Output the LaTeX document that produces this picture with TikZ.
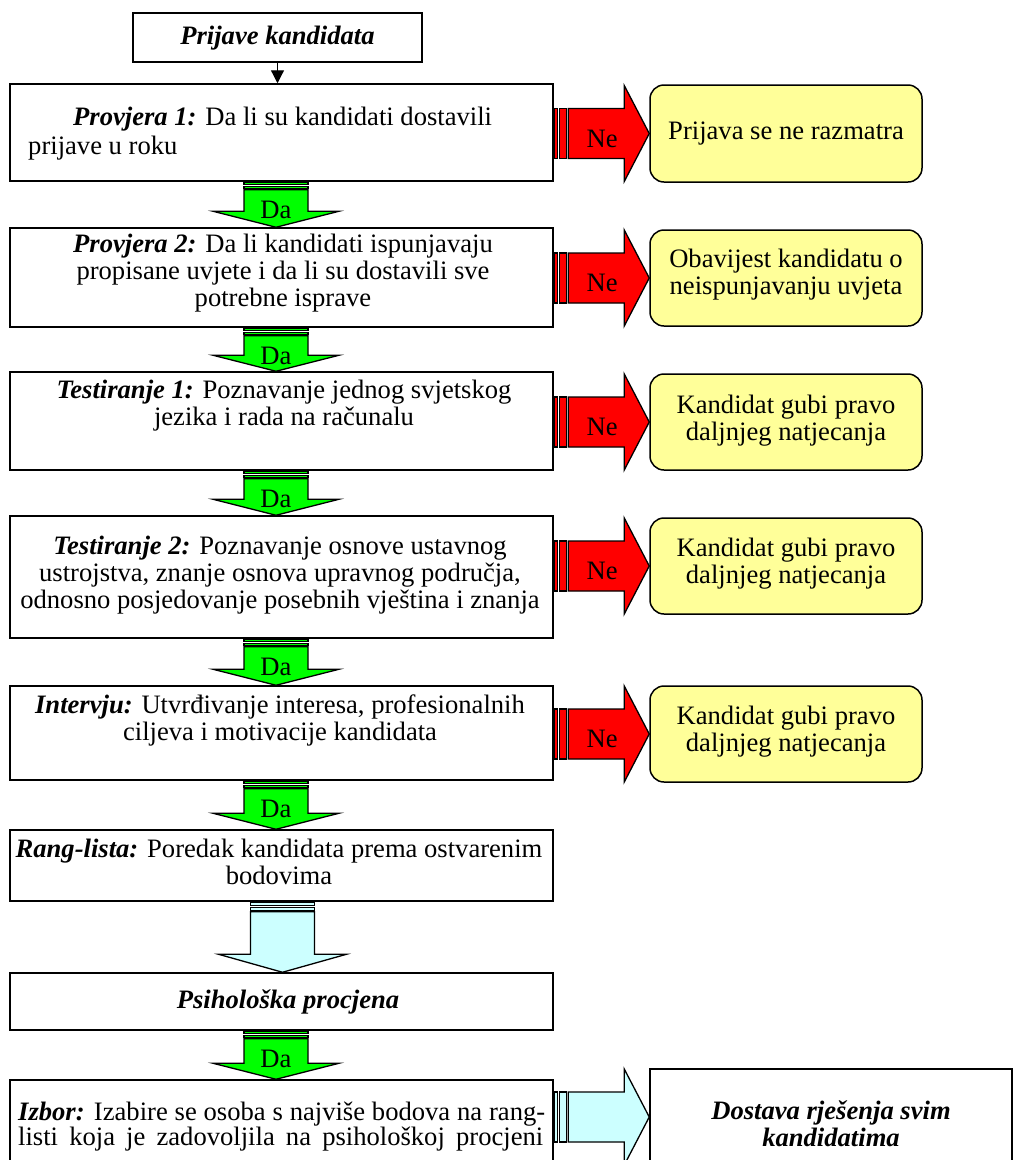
\documentclass[tikz,border=0pt]{standalone}
\usepackage{fontspec}
\setmainfont{Liberation Serif}
\usetikzlibrary{arrows.meta,calc}
\definecolor{ared}{HTML}{FF0000}
\definecolor{agreen}{HTML}{00FF00}
\definecolor{ablue}{HTML}{CCFFFF}
\definecolor{ayellow}{HTML}{FFFF99}
\tikzset{
 mainbox/.style={draw=black, line width=1.5pt, fill=white, rectangle, inner sep=0pt},
 yellowbox/.style={draw=black, line width=1.5pt, fill=ayellow, rounded corners=14pt, rectangle, inner sep=0pt},
 txt/.style={font=\fontsize{26.6}{27}\selectfont, inner sep=0pt, align=center},
 blk/.style={draw=black, line width=1.3pt, line join=miter, fill=#1},
}
\newcommand\bi[1]{\textbf{\textit{#1}}}
% down block arrow: #1 upper node, #2 lower node, #3 colour, #4 x shift
\newcommand\dnarr[4]{%
 \path[blk=#3] let \p1=($(#1.south)+(#4,0)$), \p2=(#2.north) in
   (\x1-32pt,\y1-8pt) -- (\x1+32pt,\y1-8pt) -- (\x1+32pt,\y2+16pt) -- (\x1+63pt,\y2+16pt)
   -- (\x1,\y2) -- (\x1-63pt,\y2+16pt) -- (\x1-32pt,\y2+16pt) -- cycle;
 \path[blk=#3] let \p1=($(#1.south)+(#4,0)$) in (\x1-32pt,\y1-1pt) rectangle (\x1+32pt,\y1-3pt);
 \path[blk=#3] let \p1=($(#1.south)+(#4,0)$) in (\x1-32pt,\y1-4.5pt) rectangle (\x1+32pt,\y1-7pt);
}
% right block arrow: #1 left node, #2 right node, #3 colour
\newcommand\rtarr[3]{%
 \path[blk=#3] let \p1=(#1.east), \p2=(#2.west) in
   (\x1+14.5pt,\y2+25pt) -- (\x2-25pt,\y2+25pt) -- (\x2-25pt,\y2+48pt) -- (\x2,\y2)
   -- (\x2-25pt,\y2-48pt) -- (\x2-25pt,\y2-25pt) -- (\x1+14.5pt,\y2-25pt) -- cycle;
 \path[blk=#3] let \p1=(#1.east), \p2=(#2.west) in (\x1+0.5pt,\y2+25pt) rectangle (\x1+3.5pt,\y2-25pt);
 \path[blk=#3] let \p1=(#1.east), \p2=(#2.west) in (\x1+5.5pt,\y2+25pt) rectangle (\x1+12.5pt,\y2-25pt);
}
\begin{document}
\begin{tikzpicture}[x=1pt,y=-1pt]
\useasboundingbox (0,0) rectangle (1024,1160);
\clip (0,0) rectangle (1024,1160);
\fill[white] (0,0) rectangle (1024,1160);

% main column boxes
\node[mainbox, minimum width=289, minimum height=49] (top) at (277.5,37.5) {};
\node[mainbox, minimum width=543, minimum height=97] (b1) at (281.5,132.5) {};
\node[mainbox, minimum width=543, minimum height=99] (b2) at (281.5,277.5) {};
\node[mainbox, minimum width=543, minimum height=98] (b3) at (281.5,421) {};
\node[mainbox, minimum width=543, minimum height=122] (b4) at (281.5,577) {};
\node[mainbox, minimum width=543, minimum height=94] (b5) at (281.5,733) {};
\node[mainbox, minimum width=543, minimum height=71] (b6) at (281.5,865.5) {};
\node[mainbox, minimum width=543, minimum height=57] (b7) at (281.5,1001.5) {};
\node[mainbox, minimum width=543, minimum height=95] (b8) at (281.5,1127.5) {};

% right boxes
\node[yellowbox, minimum width=272, minimum height=97] (y1) at (786,133.5) {};
\node[yellowbox, minimum width=272, minimum height=96] (y2) at (786,278) {};
\node[yellowbox, minimum width=272, minimum height=96] (y3) at (786,422) {};
\node[yellowbox, minimum width=272, minimum height=96] (y4) at (786,566) {};
\node[yellowbox, minimum width=272, minimum height=96] (y5) at (786,734) {};
\node[mainbox, minimum width=362, minimum height=96] (fin) at (831,1117) {};

% thin connector
\draw[line width=1.2pt, -{Triangle[length=13pt,width=13pt]}] (top.south) -- (top.south |- b1.north);

% down block arrows
\dnarr{b1}{b2}{agreen}{-5.5}
\dnarr{b2}{b3}{agreen}{-5.5}
\dnarr{b3}{b4}{agreen}{-5.5}
\dnarr{b4}{b5}{agreen}{-5.5}
\dnarr{b5}{b6}{agreen}{-5.5}
\dnarr{b7}{b8}{agreen}{-5.5}
% light blue down arrow
\path[blk=ablue] let \p1=($(b6.south)+(1,0)$), \p2=(b7.north) in
   (\x1-32pt,\y1-10pt) -- (\x1+32pt,\y1-10pt) -- (\x1+32pt,\y2+18pt) -- (\x1+64pt,\y2+18pt)
   -- (\x1,\y2) -- (\x1-64pt,\y2+18pt) -- (\x1-32pt,\y2+18pt) -- cycle;
\path[blk=ablue] let \p1=($(b6.south)+(1,0)$) in (\x1-32pt,\y1-1pt) rectangle (\x1+32pt,\y1-4pt);
\path[blk=ablue] let \p1=($(b6.south)+(1,0)$) in (\x1-32pt,\y1-5.5pt) rectangle (\x1+32pt,\y1-9pt);

% right block arrows
\rtarr{b1}{y1}{ared}
\rtarr{b2}{y2}{ared}
\rtarr{b3}{y3}{ared}
\rtarr{b4}{y4}{ared}
\rtarr{b5}{y5}{ared}
\rtarr{b8}{fin}{ablue}

% labels on arrows
\foreach \b in {1,2,3,4,5,7}{
  \node[txt] (da\b) at ($(b\b.south)+(-5.5,28)$) {Da};
}
\foreach \y in {1,...,5}{
  \node[txt] (ne\y) at ($(y\y.west)+(-47,5)$) {Ne};
}

% texts
\node[txt] (t0) at (277.5,38) {\bi{Prijave kandidata}};
\node[txt, anchor=base west] (t1a) at (73,125) {\bi{Provjera 1:} Da li su kandidati dostavili};
\node[txt, anchor=base west] (t1b) at (28,154) {prijave u roku};
\node[txt] (t2) at (283,273) {\bi{Provjera 2:} Da li kandidati ispunjavaju\\propisane uvjete i da li su dostavili sve\\potrebne isprave};
\node[txt] (t3) at (284,406) {\bi{Testiranje 1:} Poznavanje jednog svjetskog\\jezika i rada na računalu};
\node[txt] (t4) at (280,575) {\bi{Testiranje 2:} Poznavanje osnove ustavnog\\ustrojstva, znanje osnova upravnog područja,\\odnosno posjedovanje posebnih vještina i znanja};
\node[txt] (t5) at (280,720) {\bi{Intervju:} Utvrđivanje interesa, profesionalnih\\ciljeva i motivacije kandidata};
\node[txt] (t6) at (279,862) {\bi{Rang-lista:} Poredak kandidata prema ostvarenim\\bodovima};
\node[txt] (t7) at (288,1002) {\bi{Psihološka procjena}};
\node[txt, anchor=base west] (t8a) at (18,1120) {\makebox[527pt][s]{\bi{Izbor:} Izabire se osoba s najviše bodova na rang-}};
\node[txt, anchor=base west] (t8b) at (18,1145) {\makebox[525pt][s]{listi koja je zadovoljila na psihološkoj procjeni}};

\node[txt] (ty1) at (786,133.5) {Prijava se ne razmatra};
\node[txt] (ty2) at (786,275) {Obavijest kandidatu o\\neispunjavanju uvjeta};
\node[txt] (ty3) at (786,421) {Kandidat gubi pravo\\daljnjeg natjecanja};
\node[txt] (ty4) at (786,564) {Kandidat gubi pravo\\daljnjeg natjecanja};
\node[txt] (ty5) at (786,732) {Kandidat gubi pravo\\daljnjeg natjecanja};
\node[txt] (tf) at (831,1124) {\bi{Dostava rješenja svim}\\\bi{kandidatima}};
\end{tikzpicture}
\end{document}
